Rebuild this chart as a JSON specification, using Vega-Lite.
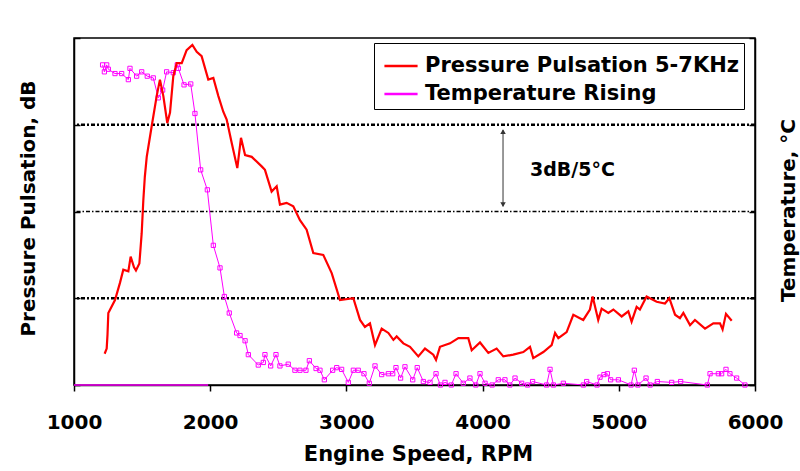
{
  "$schema": "https://vega.github.io/schema/vega-lite/v6.json",
  "width": 681,
  "height": 347,
  "autosize": {"type": "none"},
  "padding": {"left": 74, "top": 38, "right": 45, "bottom": 86},
  "background": "white",
  "config": {
    "view": {"stroke": "#000000", "strokeWidth": 1.5},
    "font": "DejaVu Sans",
    "axis": {"domainColor": "#000000", "domainWidth": 1.5, "tickColor": "#000000", "tickWidth": 1.5, "grid": false}
  },
  "datasets": {
    "pressure": [
      {"rpm": 1225, "v": 0.36}, {"rpm": 1240, "v": 0.42}, {"rpm": 1246, "v": 0.58}, {"rpm": 1252, "v": 0.83},
      {"rpm": 1301, "v": 0.98}, {"rpm": 1338, "v": 1.18}, {"rpm": 1362, "v": 1.33}, {"rpm": 1399, "v": 1.31},
      {"rpm": 1416, "v": 1.48}, {"rpm": 1440, "v": 1.36}, {"rpm": 1455, "v": 1.32}, {"rpm": 1480, "v": 1.4},
      {"rpm": 1497, "v": 1.75}, {"rpm": 1509, "v": 2.13}, {"rpm": 1520, "v": 2.4}, {"rpm": 1534, "v": 2.63},
      {"rpm": 1570, "v": 2.98}, {"rpm": 1607, "v": 3.33}, {"rpm": 1631, "v": 3.52}, {"rpm": 1656, "v": 3.33},
      {"rpm": 1685, "v": 3.02}, {"rpm": 1705, "v": 3.14}, {"rpm": 1729, "v": 3.56}, {"rpm": 1754, "v": 3.71},
      {"rpm": 1791, "v": 3.71}, {"rpm": 1827, "v": 3.86}, {"rpm": 1869, "v": 3.92}, {"rpm": 1901, "v": 3.84},
      {"rpm": 1937, "v": 3.79}, {"rpm": 1986, "v": 3.52}, {"rpm": 2023, "v": 3.54}, {"rpm": 2060, "v": 3.33},
      {"rpm": 2096, "v": 3.15}, {"rpm": 2121, "v": 3.06}, {"rpm": 2158, "v": 2.79}, {"rpm": 2199, "v": 2.5},
      {"rpm": 2226, "v": 2.85}, {"rpm": 2256, "v": 2.65}, {"rpm": 2305, "v": 2.63}, {"rpm": 2378, "v": 2.52},
      {"rpm": 2402, "v": 2.48}, {"rpm": 2451, "v": 2.23}, {"rpm": 2488, "v": 2.29}, {"rpm": 2512, "v": 2.08},
      {"rpm": 2561, "v": 2.1}, {"rpm": 2610, "v": 2.06}, {"rpm": 2659, "v": 1.9}, {"rpm": 2708, "v": 1.79},
      {"rpm": 2757, "v": 1.52}, {"rpm": 2830, "v": 1.5}, {"rpm": 2892, "v": 1.29}, {"rpm": 2953, "v": 0.98},
      {"rpm": 3051, "v": 1.0}, {"rpm": 3100, "v": 0.75}, {"rpm": 3136, "v": 0.67}, {"rpm": 3173, "v": 0.71},
      {"rpm": 3210, "v": 0.46}, {"rpm": 3259, "v": 0.65}, {"rpm": 3308, "v": 0.6}, {"rpm": 3345, "v": 0.52},
      {"rpm": 3369, "v": 0.56}, {"rpm": 3418, "v": 0.48}, {"rpm": 3467, "v": 0.44}, {"rpm": 3528, "v": 0.33},
      {"rpm": 3577, "v": 0.42}, {"rpm": 3638, "v": 0.35}, {"rpm": 3658, "v": 0.29}, {"rpm": 3687, "v": 0.44},
      {"rpm": 3761, "v": 0.48}, {"rpm": 3822, "v": 0.54}, {"rpm": 3895, "v": 0.54}, {"rpm": 3920, "v": 0.4},
      {"rpm": 3981, "v": 0.49}, {"rpm": 4042, "v": 0.37}, {"rpm": 4103, "v": 0.42}, {"rpm": 4152, "v": 0.33},
      {"rpm": 4225, "v": 0.35}, {"rpm": 4299, "v": 0.38}, {"rpm": 4348, "v": 0.44}, {"rpm": 4372, "v": 0.31},
      {"rpm": 4446, "v": 0.38}, {"rpm": 4507, "v": 0.46}, {"rpm": 4532, "v": 0.6}, {"rpm": 4556, "v": 0.54},
      {"rpm": 4617, "v": 0.61}, {"rpm": 4666, "v": 0.81}, {"rpm": 4739, "v": 0.75}, {"rpm": 4788, "v": 0.87},
      {"rpm": 4808, "v": 1.02}, {"rpm": 4849, "v": 0.75}, {"rpm": 4874, "v": 0.88}, {"rpm": 4923, "v": 0.83},
      {"rpm": 4960, "v": 0.87}, {"rpm": 5021, "v": 0.79}, {"rpm": 5070, "v": 0.85}, {"rpm": 5094, "v": 0.73},
      {"rpm": 5131, "v": 0.9}, {"rpm": 5155, "v": 0.87}, {"rpm": 5204, "v": 1.02}, {"rpm": 5278, "v": 0.96},
      {"rpm": 5339, "v": 0.94}, {"rpm": 5371, "v": 1.0}, {"rpm": 5413, "v": 0.81}, {"rpm": 5449, "v": 0.77},
      {"rpm": 5474, "v": 0.83}, {"rpm": 5523, "v": 0.69}, {"rpm": 5559, "v": 0.75}, {"rpm": 5633, "v": 0.65},
      {"rpm": 5694, "v": 0.71}, {"rpm": 5743, "v": 0.71}, {"rpm": 5762, "v": 0.64}, {"rpm": 5787, "v": 0.82},
      {"rpm": 5829, "v": 0.74}
    ],
    "temperature": [
      {"rpm": 1210, "v": 3.69}, {"rpm": 1223, "v": 3.61}, {"rpm": 1240, "v": 3.69}, {"rpm": 1252, "v": 3.64},
      {"rpm": 1301, "v": 3.59}, {"rpm": 1350, "v": 3.59}, {"rpm": 1399, "v": 3.52}, {"rpm": 1411, "v": 3.65},
      {"rpm": 1460, "v": 3.56}, {"rpm": 1497, "v": 3.61}, {"rpm": 1538, "v": 3.56}, {"rpm": 1582, "v": 3.54},
      {"rpm": 1619, "v": 3.31}, {"rpm": 1651, "v": 3.4}, {"rpm": 1680, "v": 3.61}, {"rpm": 1729, "v": 3.6},
      {"rpm": 1758, "v": 3.69}, {"rpm": 1766, "v": 3.65}, {"rpm": 1808, "v": 3.46}, {"rpm": 1857, "v": 3.47},
      {"rpm": 1888, "v": 3.13}, {"rpm": 1930, "v": 2.48}, {"rpm": 1979, "v": 2.25}, {"rpm": 2023, "v": 1.61},
      {"rpm": 2072, "v": 1.35}, {"rpm": 2104, "v": 1.02}, {"rpm": 2140, "v": 0.83}, {"rpm": 2194, "v": 0.6},
      {"rpm": 2219, "v": 0.57}, {"rpm": 2256, "v": 0.51}, {"rpm": 2280, "v": 0.35}, {"rpm": 2353, "v": 0.23},
      {"rpm": 2390, "v": 0.26}, {"rpm": 2402, "v": 0.35}, {"rpm": 2444, "v": 0.22}, {"rpm": 2483, "v": 0.35},
      {"rpm": 2512, "v": 0.22}, {"rpm": 2573, "v": 0.24}, {"rpm": 2622, "v": 0.17}, {"rpm": 2659, "v": 0.17},
      {"rpm": 2703, "v": 0.17}, {"rpm": 2728, "v": 0.28}, {"rpm": 2777, "v": 0.19}, {"rpm": 2806, "v": 0.17},
      {"rpm": 2838, "v": 0.06}, {"rpm": 2899, "v": 0.17}, {"rpm": 2929, "v": 0.2}, {"rpm": 2965, "v": 0.18},
      {"rpm": 3014, "v": 0.03}, {"rpm": 3051, "v": 0.17}, {"rpm": 3087, "v": 0.17}, {"rpm": 3129, "v": 0.13},
      {"rpm": 3168, "v": 0.02}, {"rpm": 3210, "v": 0.22}, {"rpm": 3259, "v": 0.12}, {"rpm": 3308, "v": 0.13},
      {"rpm": 3340, "v": 0.13}, {"rpm": 3364, "v": 0.2}, {"rpm": 3398, "v": 0.08}, {"rpm": 3430, "v": 0.21},
      {"rpm": 3487, "v": 0.06}, {"rpm": 3520, "v": 0.2}, {"rpm": 3565, "v": 0.04}, {"rpm": 3614, "v": 0.03},
      {"rpm": 3658, "v": 0.13}, {"rpm": 3690, "v": 0.0}, {"rpm": 3724, "v": 0.03}, {"rpm": 3770, "v": 0.0},
      {"rpm": 3805, "v": 0.13}, {"rpm": 3858, "v": 0.02}, {"rpm": 3907, "v": 0.08}, {"rpm": 3950, "v": 0.0},
      {"rpm": 3981, "v": 0.13}, {"rpm": 4018, "v": 0.02}, {"rpm": 4070, "v": 0.0}, {"rpm": 4115, "v": 0.06},
      {"rpm": 4164, "v": 0.06}, {"rpm": 4200, "v": 0.0}, {"rpm": 4238, "v": 0.08}, {"rpm": 4287, "v": 0.02},
      {"rpm": 4330, "v": 0.0}, {"rpm": 4367, "v": 0.04}, {"rpm": 4470, "v": 0.0}, {"rpm": 4495, "v": 0.18},
      {"rpm": 4520, "v": 0.0}, {"rpm": 4593, "v": 0.02}, {"rpm": 4740, "v": 0.0}, {"rpm": 4764, "v": 0.04},
      {"rpm": 4840, "v": 0.0}, {"rpm": 4862, "v": 0.09}, {"rpm": 4891, "v": 0.12}, {"rpm": 4916, "v": 0.13},
      {"rpm": 4940, "v": 0.06}, {"rpm": 4997, "v": 0.06}, {"rpm": 5090, "v": 0.0}, {"rpm": 5114, "v": 0.17},
      {"rpm": 5140, "v": 0.0}, {"rpm": 5200, "v": 0.08}, {"rpm": 5230, "v": 0.0}, {"rpm": 5283, "v": 0.04},
      {"rpm": 5388, "v": 0.03}, {"rpm": 5454, "v": 0.04}, {"rpm": 5650, "v": 0.0}, {"rpm": 5670, "v": 0.13},
      {"rpm": 5731, "v": 0.13}, {"rpm": 5755, "v": 0.13}, {"rpm": 5787, "v": 0.18}, {"rpm": 5816, "v": 0.13},
      {"rpm": 5865, "v": 0.08}, {"rpm": 5926, "v": 0.0}
    ]
  },
  "layer": [
    {
      "data": {"values": [{"g": 1}, {"g": 3}]},
      "mark": {"type": "rule", "color": "#000000", "strokeWidth": 2.5, "strokeDash": [4, 2, 2, 2]},
      "encoding": {
        "y": {
          "field": "g", "type": "quantitative",
          "scale": {"domain": [0, 4], "nice": false, "zero": false},
          "axis": {
            "orient": "left", "values": [0, 1, 2, 3, 4], "labels": false, "tickSize": -6,
            "title": "Pressure Pulsation, dB", "titleFont": "DejaVu Sans", "titleFontSize": 20, "titleFontWeight": "bold",
            "titleColor": "#000000", "titleAngle": -90, "titleBaseline": "alphabetic", "titleAlign": "center",
            "titleX": -40, "titleY": 170
          }
        }
      }
    },
    {
      "data": {"values": [{"g": 2}]},
      "mark": {"type": "rule", "color": "#000000", "strokeWidth": 1.3, "strokeDash": [4, 2, 1.5, 2]},
      "encoding": {
        "y": {
          "field": "g", "type": "quantitative",
          "axis": {
            "orient": "right", "values": [0, 1, 2, 3, 4], "labels": false, "tickSize": -6,
            "title": "Temperature, °C", "titleFont": "DejaVu Sans", "titleFontSize": 20, "titleFontWeight": "bold",
            "titleColor": "#000000", "titleAngle": -90, "titleBaseline": "alphabetic", "titleAlign": "center",
            "titleX": 39, "titleY": 172
          }
        }
      }
    },
    {
      "data": {"values": [{"rpm": 1000, "v": 0}, {"rpm": 1985, "v": 0}]},
      "mark": {"type": "line", "color": "#FF00FF", "strokeWidth": 1.5},
      "encoding": {
        "x": {
          "field": "rpm", "type": "quantitative",
          "scale": {"domain": [1000, 6000], "nice": false, "zero": false},
          "axis": {
            "values": [1000, 2000, 3000, 4000, 5000, 6000], "format": "d", "tickSize": 6,
            "labelFont": "DejaVu Sans", "labelFontSize": 20, "labelFontWeight": "bold", "labelColor": "#000000",
            "labelPadding": 21, "labelFlush": false, "labelOverlap": false,
            "title": "Engine Speed, RPM", "titleFont": "DejaVu Sans", "titleFontSize": 21, "titleFontWeight": "bold",
            "titleColor": "#000000", "titleBaseline": "alphabetic", "titleY": 75, "titleX": 344
          }
        },
        "y": {"field": "v", "type": "quantitative", "axis": null}
      }
    },
    {
      "data": {"name": "temperature"},
      "transform": [{"calculate": "'Temperature Rising'", "as": "series"}],
      "mark": {"type": "line", "strokeWidth": 1},
      "encoding": {
        "x": {"field": "rpm", "type": "quantitative"},
        "y": {"field": "v", "type": "quantitative", "axis": null},
        "color": {
          "field": "series", "type": "nominal",
          "scale": {"domain": ["Pressure Pulsation 5-7KHz", "Temperature Rising"], "range": ["#FF0000", "#FF00FF"]},
          "legend": {
            "title": null, "orient": "none", "legendX": 300, "legendY": 5,
            "symbolType": "stroke", "symbolSize": 1100, "symbolStrokeWidth": 2.5,
            "labelFont": "DejaVu Sans", "labelFontSize": 21, "labelFontWeight": "bold", "labelColor": "#000000",
            "labelLimit": 500, "labelOffset": 6, "padding": 5, "symbolOffset": 4, "rowPadding": 0,
            "strokeColor": "#000000", "fillColor": "#FFFFFF"
          }
        }
      }
    },
    {
      "data": {"name": "temperature"},
      "mark": {"type": "point", "shape": "square", "filled": false, "color": "#FF00FF", "size": 18, "strokeWidth": 1, "opacity": 1},
      "encoding": {
        "x": {"field": "rpm", "type": "quantitative"},
        "y": {"field": "v", "type": "quantitative", "axis": null}
      }
    },
    {
      "data": {"name": "pressure"},
      "transform": [{"calculate": "'Pressure Pulsation 5-7KHz'", "as": "series"}],
      "mark": {"type": "line", "strokeWidth": 2.2},
      "encoding": {
        "x": {"field": "rpm", "type": "quantitative"},
        "y": {"field": "v", "type": "quantitative", "axis": null},
        "color": {"field": "series", "type": "nominal"}
      }
    },
    {
      "data": {"values": [{"rpm": 4150, "v1": 2.06, "v2": 2.94}]},
      "mark": {"type": "rule", "color": "#333333", "strokeWidth": 1},
      "encoding": {
        "x": {"field": "rpm", "type": "quantitative"},
        "y": {"field": "v1", "type": "quantitative", "axis": null},
        "y2": {"field": "v2"}
      }
    },
    {
      "data": {"values": [{"rpm": 4150, "v": 2.92}]},
      "mark": {"type": "point", "shape": "triangle-up", "filled": true, "color": "#333333", "size": 30, "opacity": 1},
      "encoding": {
        "x": {"field": "rpm", "type": "quantitative"},
        "y": {"field": "v", "type": "quantitative", "axis": null}
      }
    },
    {
      "data": {"values": [{"rpm": 4150, "v": 2.08}]},
      "mark": {"type": "point", "shape": "triangle-down", "filled": true, "color": "#333333", "size": 30, "opacity": 1},
      "encoding": {
        "x": {"field": "rpm", "type": "quantitative"},
        "y": {"field": "v", "type": "quantitative", "axis": null}
      }
    },
    {
      "data": {"values": [{"rpm": 4348, "v": 2.48, "label": "3dB/5°C"}]},
      "mark": {"type": "text", "align": "left", "baseline": "middle", "font": "DejaVu Sans", "fontSize": 19, "fontWeight": "bold", "color": "#000000"},
      "encoding": {
        "x": {"field": "rpm", "type": "quantitative"},
        "y": {"field": "v", "type": "quantitative", "axis": null},
        "text": {"field": "label"}
      }
    }
  ],
  "resolve": {"axis": {"y": "independent"}}
}
